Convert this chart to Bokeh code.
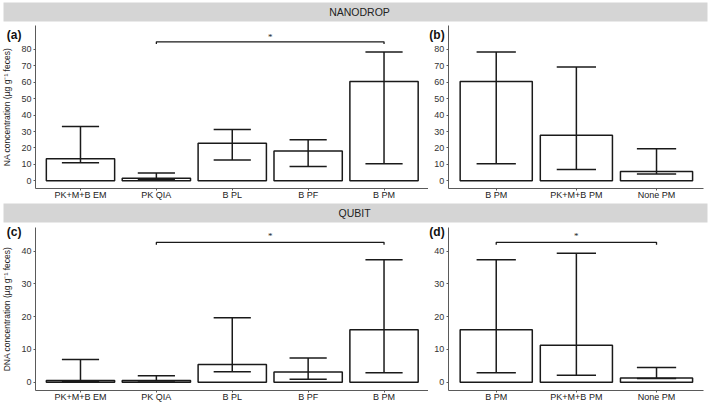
from bokeh.plotting import figure
from bokeh.layouts import column, row
from bokeh.models import Range1d, FixedTicker, Label, ColumnDataSource
from bokeh.embed import file_html
from bokeh.resources import INLINE

# ---- data ----
cats_left = ["PK+M+B EM", "PK QIA", "B PL", "B PF", "B PM"]
cats_right = ["B PM", "PK+M+B PM", "None PM"]

# NANODROP (a)
a_mean = [13.4, 1.6, 22.9, 18.1, 60.5]
a_low = [11.0, 1.0, 12.6, 8.7, 10.4]
a_high = [33.1, 4.7, 31.3, 25.0, 78.4]
# NANODROP (b)
b_mean = [60.5, 27.8, 5.7]
b_low = [10.4, 6.9, 4.1]
b_high = [78.4, 69.4, 19.5]
# QUBIT (c)
c_mean = [0.5, 0.5, 5.4, 3.1, 16.0]
c_low = [0.3, 0.4, 3.2, 0.9, 2.9]
c_high = [6.9, 2.0, 19.7, 7.4, 37.4]
# QUBIT (d)
d_mean = [16.0, 11.3, 1.3]
d_low = [2.9, 2.1, 1.1]
d_high = [37.4, 39.4, 4.5]

ticks_top = [0, 10, 20, 30, 40, 50, 60, 70, 80]
ticks_bottom = [0, 10, 20, 30, 40]

# significance brackets: (start index, end index, y)
sig_a = (1, 4, 84.7)
sig_c = (1, 4, 42.7)
sig_d = (0, 2, 42.7)

FONT = "Liberation Sans"
GRAY = "#d5d5d5"
AX = "#5a5a5a"
INK = "#1a1a1a"


def header(text, w, h, band, tx, ty):
    p = figure(width=w, height=h, x_range=Range1d(0, w), y_range=Range1d(h, 0),
               output_backend="svg", toolbar_location=None,
               x_axis_location=None, y_axis_location=None, min_border=0)
    p.background_fill_color = "white"
    p.border_fill_color = "white"
    p.outline_line_color = None
    p.grid.visible = False
    p.quad(left=[band[0]], right=[band[1]], top=[band[2]], bottom=[band[3]],
           fill_color=GRAY, line_color=None)
    p.add_layout(Label(x=tx, y=ty, text=text, text_align="center", text_baseline="middle",
                       text_font=FONT, text_font_size="10.5px", text_color="#222222"))
    return p


def panel(cats, mean, low, high, xr, xb, yr, yb, yticks, w, h, tag, tag_xy,
          ylabel=None, sig=None, sig_tick=1.2, star_dy=4.0):
    p = figure(width=w, height=h, x_range=Range1d(*xr), y_range=Range1d(*yr),
               output_backend="svg", toolbar_location=None, min_border=0)
    p.outline_line_color = None
    p.grid.visible = False
    xs = list(range(len(cats)))
    src = ColumnDataSource(dict(x=xs, top=mean, low=low, high=high))
    p.vbar(x="x", top="top", bottom=0, width=0.9, source=src, fill_color="white",
           line_color=INK, line_width=1.5)
    p.segment(x0="x", y0="low", x1="x", y1="high", source=src, line_color=INK, line_width=1.5)
    cw = 0.245
    p.segment(x0=[x - cw for x in xs], y0=high, x1=[x + cw for x in xs], y1=high,
              line_color=INK, line_width=1.5)
    p.segment(x0=[x - cw for x in xs], y0=low, x1=[x + cw for x in xs], y1=low,
              line_color=INK, line_width=1.5)
    if sig is not None:
        i0, i1, yy = sig
        p.line(x=[i0, i0, i1, i1], y=[yy - sig_tick, yy, yy, yy - sig_tick],
               line_color=INK, line_width=1.3)
        p.text(x=[(i0 + i1) / 2], y=[yy + star_dy], text=["*"], text_align="center",
               text_baseline="middle", text_font=FONT, text_font_size="9px",
               text_color="#222222")
    # x axis drawn at a fixed position inside the frame, line limited to bounds
    xa = p.xaxis[0]
    xa.fixed_location = yb[0]
    xa.bounds = xb
    xa.ticker = FixedTicker(ticks=xs)
    xa.major_label_overrides = {i: c for i, c in enumerate(cats)}
    xa.minor_tick_line_color = None
    xa.major_tick_in = 0
    xa.major_tick_out = 2
    xa.major_label_standoff = 0
    xa.axis_line_color = AX
    xa.major_tick_line_color = AX
    xa.major_label_text_font = FONT
    xa.major_label_text_font_size = "9px"
    xa.major_label_text_color = "#222222"
    # y axis drawn at a fixed position inside the frame
    ya = p.yaxis[0]
    ya.fixed_location = xb[0]
    ya.bounds = yb
    ya.ticker = FixedTicker(ticks=yticks)
    ya.minor_tick_line_color = None
    ya.major_tick_in = 0
    ya.major_tick_out = 2
    ya.major_label_standoff = 2
    ya.axis_line_color = AX
    ya.major_tick_line_color = AX
    ya.major_label_text_font = FONT
    ya.major_label_text_font_size = "9px"
    ya.major_label_text_color = "#333333"
    if ylabel:
        ya.axis_label = ylabel
        ya.axis_label_standoff = 6
        ya.axis_label_text_font = FONT
        ya.axis_label_text_font_style = "normal"
        ya.axis_label_text_font_size = "8.5px"
        ya.axis_label_text_color = "#222222"
    p.add_layout(Label(x=tag_xy[0], y=tag_xy[1], text=tag,
                       text_font=FONT, text_font_style="bold", text_font_size="12px",
                       text_color="#111111", text_baseline="top"))
    return p


# top row: frame spans page y 23..202, zero at 180.3, 1.6413 px per unit
# bottom row: frame spans page y 224..403, zero at 381.7, 3.275 px per unit
pa = panel(cats_left, a_mean, a_low, a_high,
           (-1.054, 4.586), (-0.593, 4.586), (-13.22, 95.84), (-4.69, 94.6), ticks_top,
           428, 179, "(a)", (-0.97, 93.4),
           ylabel="NA concentration (µg g⁻¹ feces)", sig=sig_a, sig_tick=1.3, star_dy=3.2)
pb = panel(cats_right, b_mean, b_low, b_high,
           (-0.845, 2.661), (-0.599, 2.586), (-13.22, 95.84), (-4.69, 94.6), ticks_top,
           281, 179, "(b)", (-0.835, 93.4))
pc = panel(cats_left, c_mean, c_low, c_high,
           (-1.054, 4.586), (-0.593, 4.586), (-6.5, 48.15), (-2.53, 47.2), ticks_bottom,
           428, 179, "(c)", (-0.97, 47.85),
           ylabel="DNA concentration (µg g⁻¹ feces)", sig=sig_c, sig_tick=0.7, star_dy=1.8)
pd = panel(cats_right, d_mean, d_low, d_high,
           (-0.845, 2.661), (-0.599, 2.586), (-6.5, 48.15), (-2.53, 47.2), ticks_bottom,
           281, 179, "(d)", (-0.835, 47.85), sig=sig_d, sig_tick=0.7, star_dy=1.8)

h1 = header("NANODROP", 709, 23, (3, 707, 2, 21), 359, 11.7)
h2 = header("QUBIT", 709, 22, (3, 707, 1, 20), 354, 10.3)

layout = column(h1, row(pa, pb), h2, row(pc, pd))

open("out.html", "w").write(file_html(layout, INLINE))
